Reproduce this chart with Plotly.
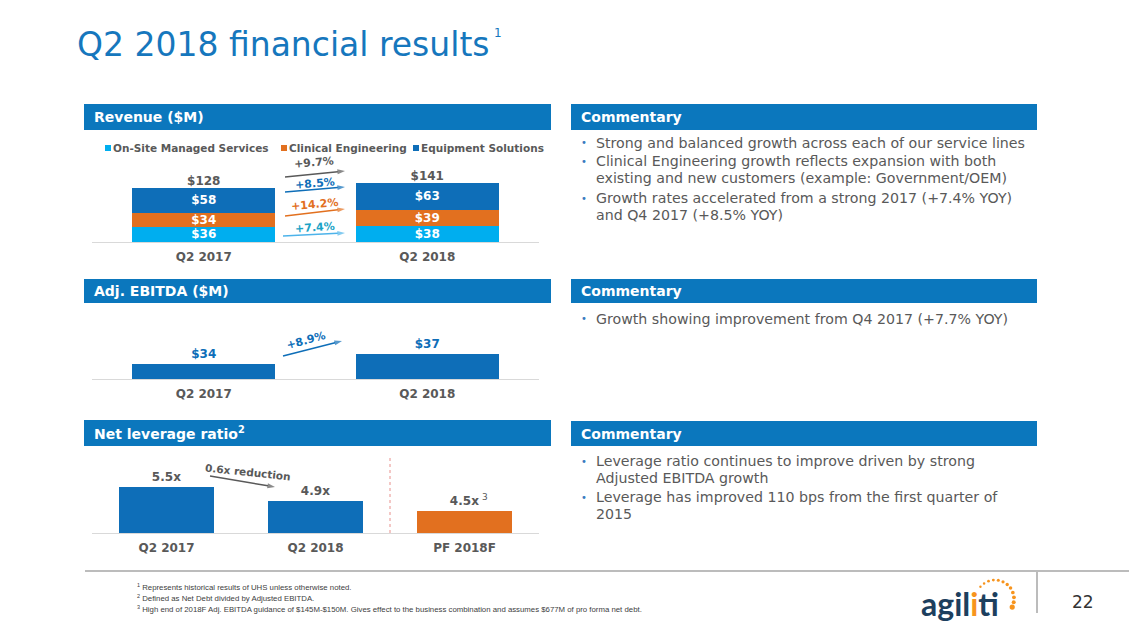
import math
import plotly.graph_objects as go

W, H = 1129, 635


def X(p):
    return p / W


def Y(p):
    return 1 - p / H


FONT = "DejaVu Sans"
GRAY = "#595959"
HDR = "#0B77BD"
TITLE_C = "#1677BD"
ES_C = "#0E6EB8"
CE_C = "#E2701F"
OS_C = "#00AEEF"

# ---------------- data ----------------
rev_cats = ["Q2 2017", "Q2 2018"]
rev_onsite = [36, 38]
rev_clinical = [34, 39]
rev_equipment = [58, 63]
rev_totals = [128, 141]
rev_series = ["On-Site Managed Services", "Clinical Engineering", "Equipment Solutions"]
rev_growth = ["+9.7%", "+8.5%", "+14.2%", "+7.4%"]  # total, equipment, clinical, on-site

ebitda_cats = ["Q2 2017", "Q2 2018"]
ebitda_vals = [34, 37]
ebitda_growth = "+8.9%"

lev_cats = ["Q2 2017", "Q2 2018", "PF 2018F"]
lev_vals = [5.5, 4.9, 4.5]
lev_note = "0.6x reduction"

fig = go.Figure()

bold = dict(family=FONT, weight="bold")

# Revenue stacked bars
for vals, name, col in [(rev_onsite, rev_series[0], OS_C),
                        (rev_clinical, rev_series[1], CE_C),
                        (rev_equipment, rev_series[2], ES_C)]:
    fig.add_trace(go.Bar(
        x=rev_cats, y=vals, name=name, marker=dict(color=col, line=dict(width=0)),
        width=0.64, text=[f"${v}" for v in vals], textposition="inside",
        insidetextanchor="middle", textangle=0,
        textfont=dict(color="white", size=12, **bold),
        xaxis="x", yaxis="y", hoverinfo="skip"))

fig.add_trace(go.Scatter(
    x=rev_cats, y=rev_totals, mode="text", text=[f"${v}" for v in rev_totals],
    textposition="top center", textfont=dict(color=GRAY, size=12, **bold),
    cliponaxis=False, xaxis="x", yaxis="y", hoverinfo="skip"))

# EBITDA
fig.add_trace(go.Bar(
    x=ebitda_cats, y=ebitda_vals, marker=dict(color=ES_C, line=dict(width=0)), width=0.64,
    text=[f"${v}" for v in ebitda_vals], textposition="outside", textangle=0,
    outsidetextfont=dict(color=ES_C, size=13, **bold), cliponaxis=False,
    xaxis="x2", yaxis="y2", hoverinfo="skip"))

# Leverage
fig.add_trace(go.Bar(
    x=lev_cats, y=lev_vals, marker=dict(color=[ES_C, ES_C, CE_C], line=dict(width=0)),
    width=0.64, text=[f"{v}x" for v in lev_vals], textposition="outside", textangle=0,
    outsidetextfont=dict(color=GRAY, size=12, **bold), cliponaxis=False,
    xaxis="x3", yaxis="y3", hoverinfo="skip"))

xcommon = dict(type="category", showline=True, linecolor="#D9D9D9", linewidth=1,
               showgrid=False, zeroline=False, ticks="", ticklabelstandoff=4,
               tickfont=dict(color=GRAY, size=12, **bold), fixedrange=True)
ycommon = dict(visible=False, showgrid=False, zeroline=False, fixedrange=True)

fig.update_layout(
    width=W, height=H, margin=dict(l=0, r=0, t=0, b=0),
    paper_bgcolor="white", plot_bgcolor="rgba(0,0,0,0)",
    showlegend=False, barmode="stack", uniformtext=dict(mode="show", minsize=12),
    font=dict(family=FONT, color=GRAY), hovermode=False,
    xaxis=dict(domain=[X(92), X(539)], range=[-0.5, 1.5], anchor="y", **xcommon),
    yaxis=dict(domain=[Y(242), Y(160)], range=[0, 195], anchor="x", **ycommon),
    xaxis2=dict(domain=[X(92), X(539)], range=[-0.5, 1.5], anchor="y2", **xcommon),
    yaxis2=dict(domain=[Y(379), Y(330)], range=[29.5, 44.2], anchor="x2", **ycommon),
    xaxis3=dict(domain=[X(92), X(539)], range=[-0.5, 2.5], anchor="y3", **xcommon),
    yaxis3=dict(domain=[Y(533), Y(453)], range=[3.573, 6.92], anchor="x3", **ycommon),
    # overlay in slide pixel coordinates, used only for the growth arrows
    xaxis4=dict(domain=[0, 1], range=[0, W], anchor="y4", visible=False, fixedrange=True),
    yaxis4=dict(domain=[0, 1], range=[H, 0], anchor="x4", visible=False, fixedrange=True),
)

shapes = []
anns = []


def rect(x0, y0, x1, y1, color):
    shapes.append(dict(type="rect", xref="paper", yref="paper", x0=X(x0), x1=X(x1),
                       y0=Y(y1), y1=Y(y0), fillcolor=color, line=dict(width=0), layer="below"))


def text(x, y, t, size=13, color=GRAY, xanchor="left", yanchor="middle", weight="normal",
         family=FONT, angle=0, align="left"):
    anns.append(dict(xref="paper", yref="paper", x=X(x), y=Y(y), text=t, showarrow=False,
                     xanchor=xanchor, yanchor=yanchor, textangle=angle, align=align,
                     font=dict(size=size, color=color, family=family, weight=weight)))


def arrow(x0, y0, x1, y1, color, width=1.5):
    fig.add_trace(go.Scatter(
        x=[x0, x1], y=[y0, y1], xaxis="x4", yaxis="y4", mode="lines+markers",
        line=dict(color=color, width=width),
        marker=dict(symbol=["circle", "arrow"], size=[0, 8], color=color,
                    angleref="previous", line=dict(width=0)),
        hoverinfo="skip", cliponaxis=False))


# Title
text(75, 45, "Q2 2018 financial results", size=33, color=TITLE_C)
text(492, 33, "1", size=12, color=TITLE_C)

# Headers
headers = [((84, 104, 551, 130), "Revenue ($M)"),
           ((571, 104, 1037, 130), "Commentary"),
           ((84, 279, 551, 303), "Adj. EBITDA ($M)"),
           ((571, 279, 1037, 303), "Commentary"),
           ((84, 420, 551, 446), "Net leverage ratio<sup>2</sup>"),
           ((571, 421, 1037, 446), "Commentary")]
for (x0, y0, x1, y1), t in headers:
    rect(x0, y0, x1, y1, HDR)
    text(x0 + 8, (y0 + y1) / 2, t, size=14, color="white", weight="bold")

# Legend
for sx, name, col in [(105, rev_series[0], OS_C), (281, rev_series[1], CE_C), (413, rev_series[2], ES_C)]:
    rect(sx, 145, sx + 6, 151, col)
    text(sx + 6, 148, name, size=10.5, color=GRAY, weight="bold")

# Revenue growth arrows
arrow(285, 177, 345, 171, GRAY)
arrow(285, 192, 345, 187, ES_C)
arrow(285, 216, 345, 209, CE_C)
arrow(283, 236, 345, 233, "#4DB3EA")
text(314, 162, rev_growth[0], size=11, color=GRAY, xanchor="center", weight="bold", angle=-5)
text(315, 183, rev_growth[1], size=11, color=ES_C, xanchor="center", weight="bold", angle=-5)
text(314, 204, rev_growth[2], size=11, color=CE_C, xanchor="center", weight="bold", angle=-5)
text(315, 227, rev_growth[3], size=11, color="#1BA3C6", xanchor="center", weight="bold", angle=-4)

# EBITDA arrow
arrow(283, 356, 342, 341, ES_C)
text(306, 340, ebitda_growth, size=11, color=ES_C, xanchor="center", weight="bold", angle=-15)

# Leverage arrow + notes
arrow(210, 476, 275, 487, GRAY)
text(248, 472, lev_note, size=10.5, color=GRAY, xanchor="center", weight="bold", angle=6)
text(480, 497, "3", size=9, color=GRAY)
shapes.append(dict(type="line", xref="x3", yref="paper", x0=1.5, x1=1.5, y0=Y(533), y1=Y(458),
                   line=dict(color="#E8908C", width=1, dash="dot")))

# Commentary bullets
BUL = "#3A7BC0"


def bullet(y_first, lines, step=17):
    text(579, y_first, "•", size=10, color=BUL)
    for i, ln in enumerate(lines):
        text(594, y_first + step * i, ln, size=14.2, color=GRAY)


bullet(143, ["Strong and balanced growth across each of our service lines"])
bullet(161, ["Clinical Engineering growth reflects expansion with both",
             "existing and new customers (example: Government/OEM)"])
bullet(198, ["Growth rates accelerated from a strong 2017 (+7.4% YOY)",
             "and Q4 2017 (+8.5% YOY)"])
bullet(319, ["Growth showing improvement from Q4 2017 (+7.7% YOY)"])
bullet(461, ["Leverage ratio continues to improve driven by strong",
             "Adjusted EBITDA growth"])
bullet(497, ["Leverage has improved 110 bps from the first quarter of",
             "2015"])

# Footer
shapes.append(dict(type="line", xref="paper", yref="paper", x0=X(85), x1=1, y0=Y(571), y1=Y(571),
                   line=dict(color="#A6A6A6", width=1.5)))
shapes.append(dict(type="line", xref="paper", yref="paper", x0=X(1037), x1=X(1037), y0=Y(572), y1=Y(613),
                   line=dict(color="#A6A6A6", width=1.5)))
foot = ["<sup>1</sup> Represents historical results of UHS unless otherwise noted.",
        "<sup>2</sup> Defined as Net Debt divided by Adjusted EBITDA.",
        "<sup>3</sup> High end of 2018F Adj. EBITDA guidance of $145M-$150M. Gives effect to the business combination and assumes $677M of pro forma net debt."]
for i, t in enumerate(foot):
    text(135, 587 + 11 * i, t, size=7.8, color="#404040", family="Liberation Sans")

# Logo
text(919, 603, "agil<span style='color:#F7941D'>i</span>ti", size=32, color="#1D3F5E",
     family="Lato", weight="bold")
for k in range(12):
    ang = math.radians(140 - k * 15)
    cx = 995 + 19 * math.cos(ang)
    cy = 599 - 19 * math.sin(ang)
    r = 1.2 + 0.08 * k
    if k == 11:
        r = 2.6
    shapes.append(dict(type="circle", xref="paper", yref="paper", x0=X(cx - r), x1=X(cx + r),
                       y0=Y(cy + r), y1=Y(cy - r), fillcolor="#F7941D", line=dict(width=0)))

text(1083, 602, "22", size=17, color="#333333", xanchor="center", family="DejaVu Sans")

fig.update_layout(shapes=shapes, annotations=anns)
fig.write_html("out.html", config={"displayModeBar": False, "staticPlot": True},
               post_script="document.body.style.margin='0px';")
